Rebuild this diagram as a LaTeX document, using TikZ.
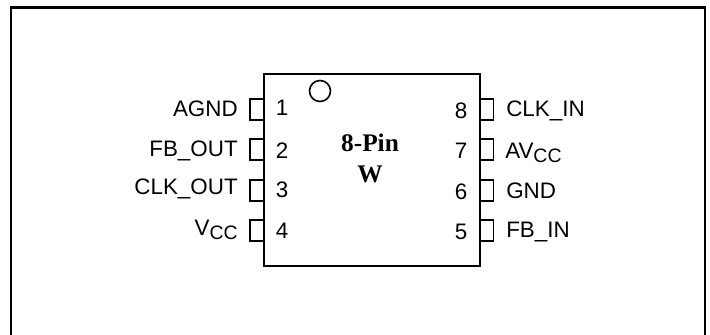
\documentclass[tikz,border=0pt]{standalone}
\usepackage{fontspec}
\setmainfont{Liberation Sans}
\newfontfamily\serifbold{Liberation Serif}
\usepackage{tikz}
\newcommand{\drawthick}{\draw[line width=1.8pt]}
\newcommand{\drawpin}[3]{
    \draw[line width=1.2pt] (#1,#2)--++(#3,0)--++(0,21)--++(-#3,0);
}
\newcommand{\subcc}{\raisebox{-0.22em}{\fontsize{14.6}{16}\selectfont CC}}
\tikzset{pinlabel/.style={inner sep=0pt,font=\fontsize{16.8}{18}\selectfont},
  chiplabel/.style={inner sep=0pt,anchor=base,font=\serifbold\bfseries\fontsize{19}{20}\selectfont}}
\begin{document}
\begin{tikzpicture}[x=0.75pt,y=-0.75pt]
\useasboundingbox (0,0) rectangle (710,335);
\drawthick (11,335)--(11,7.5)--(705,7.5)--(705,335);
\draw[line width=1.5pt] (264,74)--(480,74)--(480,266)--(264,266)--cycle;
\draw[line width=1.2pt] (320,91) circle (10.5);
\foreach \y in {99,139,180,220}{
  \drawpin{264}{\y}{-14}
  \drawpin{480}{\y}{13.5}
}
\foreach \n/\y in {1/115,2/158,3/197,4/238}{
  \node[pinlabel,anchor=base] (left\n) at (282,\y) {\n};
}
\foreach \n/\y in {8/118,7/158,6/199,5/239}{
  \node[pinlabel,anchor=base] (right\n) at (461,\y) {\n};
}
\node[pinlabel,anchor=base east] (agnd) at (238,116) {AGND};
\node[pinlabel,anchor=base east] (fbout) at (238,156) {FB\_OUT};
\node[pinlabel,anchor=base east] (clkout) at (238,194) {CLK\_OUT};
\node[pinlabel,anchor=base east] (vcc) at (238,235) {V\subcc};
\node[pinlabel,anchor=base west] (clkin) at (506,117) {CLK\_IN};
\node[pinlabel,anchor=base west] (avcc) at (505,158) {AV\subcc};
\node[pinlabel,anchor=base west] (gnd) at (506,198) {GND};
\node[pinlabel,anchor=base west] (fbin) at (506,237) {FB\_IN};
\node[chiplabel] (pinsname) at (370,151) {8-Pin};
\node[chiplabel] (pkgname) at (370,182) {W};
\end{tikzpicture}
\end{document}
